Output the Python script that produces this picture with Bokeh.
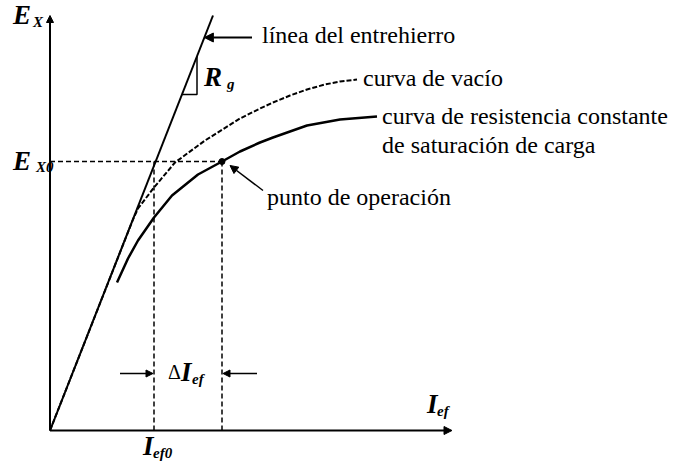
from bokeh.plotting import figure
from bokeh.models import Range1d, Arrow, NormalHead, ColumnDataSource
from bokeh.core.properties import value
from bokeh.embed import file_html
from bokeh.resources import INLINE

# ---- data (arbitrary units: field current I_ef, voltage E_X) ----
airgap_i = [0, 163]
airgap_e = [0, 415]

vacio_i = [0, 70, 83, 88, 104, 125, 155, 190, 210, 223, 240, 257, 275, 290, 307]
vacio_e = [0, 178, 211, 222, 243, 268, 290, 312, 322, 328, 335, 341, 346, 349, 351]

carga_i = [67, 78, 88, 104, 122, 148, 172, 190, 210, 223, 257, 290, 327]
carga_e = [148, 172, 190, 213, 235, 256, 269, 279, 288, 293, 305, 311, 314]

I_ef0 = 104
I_op = 172
E_X0 = 269

axis_i_max = 402
axis_e_max = 415

label_texts = ["línea del entrehierro", "curva de vacío",
               "curva de resistencia constante", "de saturación de carga",
               "punto de operación"]

SERIF = value("Liberation Serif")

p = figure(width=674, height=468, output_backend="svg", toolbar_location=None,
           x_range=Range1d(-49.5, 624.5), y_range=Range1d(-38, 430),
           min_border=0, background_fill_color="white", border_fill_color="white")
p.axis.visible = False
p.grid.visible = False
p.outline_line_color = None

# axes with arrow heads
p.add_layout(Arrow(x_start=0, y_start=0, x_end=axis_i_max, y_end=0, line_width=2,
                   end=NormalHead(size=8, line_color="black", fill_color="black")))
p.add_layout(Arrow(x_start=0, y_start=0, x_end=0, y_end=axis_e_max, line_width=2,
                   end=NormalHead(size=7, line_color="black", fill_color="black")))

# air gap line
p.line(airgap_i, airgap_e, line_color="black", line_width=2)
# open-circuit curve (dashed)
p.line(vacio_i, vacio_e, line_color="black", line_width=2, line_dash="5 2")
# load saturation curve
p.line(carga_i, carga_e, line_color="black", line_width=2.5)

# dashed reference lines
p.line([0, I_op], [E_X0, E_X0], line_color="black", line_width=1.5, line_dash="5 3")
p.line([I_ef0, I_ef0], [0, E_X0], line_color="black", line_width=1.5, line_dash="5 3")
p.line([I_op, I_op], [0, E_X0], line_color="black", line_width=1.5, line_dash="5 3")

# operating point
p.scatter([I_op], [E_X0], size=6, color="black")

# R_g slope triangle on the air gap line
slope = airgap_e[1] / airgap_i[1]
tri_x = 147
tri_y_low = 336
p.line([tri_y_low / slope, tri_x, tri_x], [tri_y_low, tri_y_low, tri_x * slope],
       line_color="black", line_width=1.5)

# leader arrows
p.add_layout(Arrow(x_start=202, y_start=393, x_end=393 / slope, y_end=393, line_width=2,
                   end=NormalHead(size=9, line_color="black", fill_color="black")))
p.add_layout(Arrow(x_start=213, y_start=240, x_end=I_op + 8, y_end=E_X0 - 4, line_width=1.5,
                   end=NormalHead(size=8, line_color="black", fill_color="black")))

# delta I arrows
dy = 57
p.add_layout(Arrow(x_start=70, y_start=dy, x_end=I_ef0 - 1, y_end=dy, line_width=1.5,
                   end=NormalHead(size=7, line_color="black", fill_color="black")))
p.add_layout(Arrow(x_start=207, y_start=dy, x_end=I_op + 1, y_end=dy, line_width=1.5,
                   end=NormalHead(size=7, line_color="black", fill_color="black")))

# text labels
lab = ColumnDataSource(dict(x=[212, 313, 332, 332, 217], y=[396, 353, 315, 286, 234],
                            t=label_texts))
p.text(x="x", y="y", text="t", source=lab, text_font=SERIF,
       text_font_size=value("24px"), text_baseline="alphabetic", text_color="black")

# math-like labels: main letters (bold italic)
main = ColumnDataSource(dict(x=[-37, -37, 154, 377, 93, 131],
                             y=[416, 270, 354, 27, -15, 59],
                             t=["E", "E", "R", "I", "I", "I"]))
p.text(x="x", y="y", text="t", source=main, text_font=SERIF,
       text_font_size=value("27px"), text_font_style="bold italic",
       text_baseline="alphabetic", text_color="black")

subs = ColumnDataSource(dict(x=[-17, -14, 177, 387, 103, 142],
                             y=[409, 264, 347, 20, -22, 52],
                             t=["X", "X0", "g", "ef", "ef0", "ef"]))
p.text(x="x", y="y", text="t", source=subs, text_font=SERIF,
       text_font_size=value("15px"), text_font_style="bold italic",
       text_baseline="alphabetic", text_color="black")

p.text(x=[118], y=[59], text=["Δ"], text_font=SERIF, text_font_size=value("20px"),
       text_baseline="alphabetic", text_color="black")

open("out.html", "w").write(file_html(p, INLINE))
